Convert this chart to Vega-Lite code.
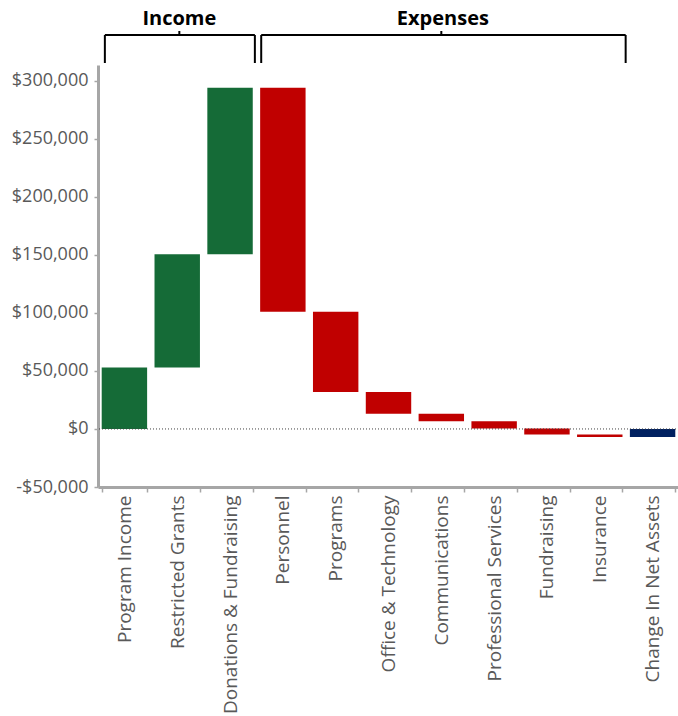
{
  "$schema": "https://vega.github.io/schema/vega-lite/v6.json",
  "padding": {"left": 5, "top": 5, "right": 0, "bottom": 0},
  "spacing": 0,
  "config": {
    "view": {"stroke": null},
    "font": "Open Sans",
    "axis": {
      "labelFont": "Open Sans",
      "labelFontSize": 18,
      "labelColor": "#595959",
      "labelLimit": 0,
      "domainColor": "#a6a6a6",
      "domainWidth": 3,
      "tickColor": "#a6a6a6",
      "tickWidth": 1.5,
      "grid": false,
      "title": null
    }
  },
  "vconcat": [
    {
      "width": 581,
      "height": 60,
      "data": {
        "values": [
          {"group": "Income", "x": 0.13, "x2": 2.97, "y": 30, "y2": 30},
          {"group": "Income", "x": 0.13, "x2": 0.13, "y": 30, "y2": 2},
          {"group": "Income", "x": 2.97, "x2": 2.97, "y": 30, "y2": 2},
          {"group": "Income", "x": 1.54, "x2": 1.54, "y": 30, "y2": 34},
          {"group": "Expenses", "x": 3.09, "x2": 9.99, "y": 30, "y2": 30},
          {"group": "Expenses", "x": 3.09, "x2": 3.09, "y": 30, "y2": 2},
          {"group": "Expenses", "x": 9.99, "x2": 9.99, "y": 30, "y2": 2},
          {"group": "Expenses", "x": 6.5, "x2": 6.5, "y": 30, "y2": 34}
        ]
      },
      "layer": [
        {
          "mark": {"type": "rule", "color": "#000000", "strokeWidth": 2},
          "encoding": {
            "x": {"field": "x", "type": "quantitative", "scale": {"domain": [0, 11], "nice": false, "zero": false}, "axis": null},
            "x2": {"field": "x2"},
            "y": {"field": "y", "type": "quantitative", "scale": {"domain": [0, 60], "nice": false}, "axis": null},
            "y2": {"field": "y2"}
          }
        },
        {
          "data": {
            "values": [
              {"label": "Income", "x": 1.54, "y": 40},
              {"label": "Expenses", "x": 6.53, "y": 40}
            ]
          },
          "mark": {"type": "text", "fontWeight": "bold", "fontSize": 20, "color": "#000000", "baseline": "alphabetic", "align": "center"},
          "encoding": {
            "x": {"field": "x", "type": "quantitative", "scale": {"domain": [0, 11], "nice": false, "zero": false}, "axis": null},
            "y": {"field": "y", "type": "quantitative", "scale": {"domain": [0, 60], "nice": false}, "axis": null},
            "text": {"field": "label"}
          }
        }
      ]
    },
    {
      "width": 581,
      "height": 422,
      "layer": [
        {
          "data": {
            "values": [
              {"category": "Program Income", "kind": "Income", "start": 0, "end": 53000},
              {"category": "Restricted Grants", "kind": "Income", "start": 53000, "end": 150500},
              {"category": "Donations & Fundraising", "kind": "Income", "start": 150500, "end": 294000},
              {"category": "Personnel", "kind": "Expense", "start": 294000, "end": 101000},
              {"category": "Programs", "kind": "Expense", "start": 101000, "end": 31800},
              {"category": "Office & Technology", "kind": "Expense", "start": 31800, "end": 13200},
              {"category": "Communications", "kind": "Expense", "start": 13200, "end": 6700},
              {"category": "Professional Services", "kind": "Expense", "start": 6700, "end": 400},
              {"category": "Fundraising", "kind": "Expense", "start": 400, "end": -4800},
              {"category": "Insurance", "kind": "Expense", "start": -4800, "end": -7000},
              {"category": "Change In Net Assets", "kind": "Total", "start": 0, "end": -7000}
            ]
          },
          "mark": {"type": "bar"},
          "encoding": {
            "x": {
              "field": "category",
              "type": "nominal",
              "sort": null,
              "scale": {"paddingInner": 0.14, "paddingOuter": 0.07},
              "axis": {
                "labelAngle": -90,
                "labelAlign": "right",
                "labelBaseline": "middle",
                "labelPadding": 3,
                "labelFontSize": 19,
                "tickBand": "extent",
                "tickSize": 5
              }
            },
            "y": {
              "field": "start",
              "type": "quantitative",
              "scale": {"domain": [-50000, 313500], "nice": false, "zero": false},
              "axis": {
                "values": [-50000, 0, 50000, 100000, 150000, 200000, 250000, 300000],
                "format": "$,.0f",
                "labelExpr": "replace(datum.label, '\u2212', '-')",
                "tickSize": 4,
                "labelPadding": 6,
                "minExtent": 93,
                "maxExtent": 93
              }
            },
            "y2": {"field": "end"},
            "color": {
              "field": "kind",
              "type": "nominal",
              "scale": {"domain": ["Income", "Expense", "Total"], "range": ["#156b37", "#c00000", "#002060"]},
              "legend": null
            }
          }
        },
        {
          "data": {"values": [{"zero": 0}]},
          "mark": {"type": "rule", "color": "#404040", "strokeWidth": 1, "strokeDash": [1, 2]},
          "encoding": {
            "y": {"field": "zero", "type": "quantitative"}
          }
        }
      ]
    }
  ]
}
